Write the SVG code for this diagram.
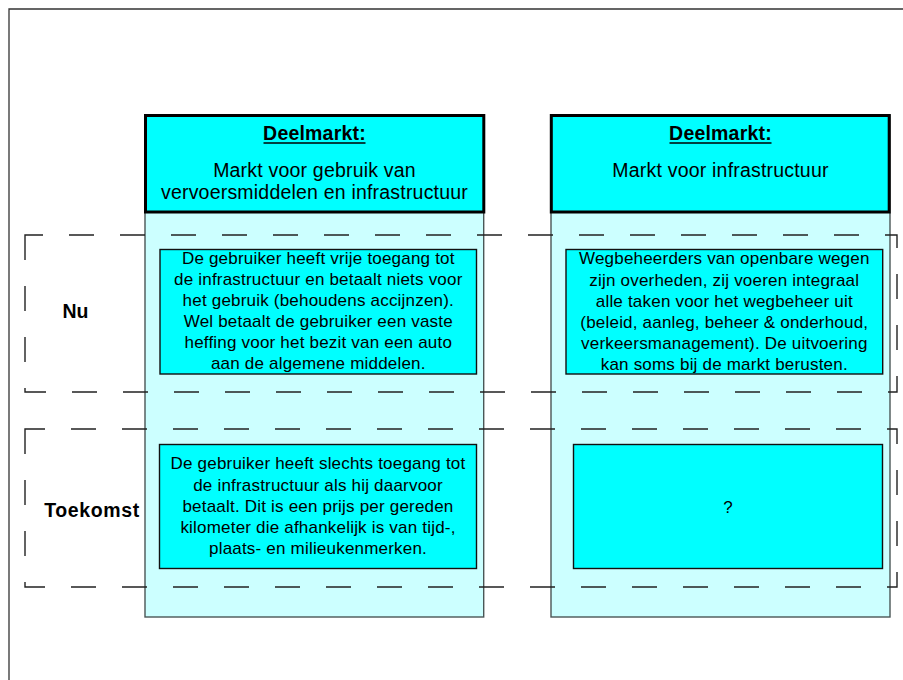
<svg xmlns="http://www.w3.org/2000/svg" width="903" height="680" viewBox="0 0 903 680">
  <style>
    text { font-family: "Liberation Sans", Arial, sans-serif; fill: #000; text-anchor: middle; }
    .frame { fill: none; stroke: #333; stroke-width: 1.3; }
    .column { fill: #CCFFFF; stroke: #4a5656; stroke-width: 1.4; }
    .header { fill: #00FFFF; stroke: #000; stroke-width: 3; }
    .band { fill: none; stroke: #222; stroke-width: 1.4; stroke-dasharray: 25 26; }
    .cell { fill: #00FFFF; stroke: #111; stroke-width: 1.4; }
    .title { font-size: 19.5px; font-weight: bold; letter-spacing: 0.2px; }
    .head { font-size: 19.5px; letter-spacing: 0.2px; }
    .body { font-size: 17px; letter-spacing: 0.2px; }
    .row { font-size: 19.5px; font-weight: bold; }
    .uline { stroke: #000; stroke-width: 1.5; }
  </style>

  <!-- page frame (continues past the right and bottom edges) -->
  <path class="frame" d="M9,690 V9 H910"/>

  <!-- market columns -->
  <g id="col-gebruik">
    <rect class="column" x="145" y="115" width="338.7" height="502"/>
    <rect class="header" x="145.5" y="115.5" width="338.3" height="96.5"/>
    <text class="title" x="314.5" y="139.5">Deelmarkt:</text>
    <line class="uline" x1="263.5" y1="143" x2="365.5" y2="143"/>
    <text class="head" x="314.5" y="177">Markt voor gebruik van</text>
    <text class="head" x="314.5" y="198.5">vervoersmiddelen en infrastructuur</text>
  </g>

  <g id="col-infra">
    <rect class="column" x="551" y="115" width="339" height="502"/>
    <rect class="header" x="551.3" y="115.5" width="337.9" height="96.5"/>
    <text class="title" x="720.5" y="139.5">Deelmarkt:</text>
    <line class="uline" x1="669.5" y1="143" x2="771.5" y2="143"/>
    <text class="head" x="720.5" y="176.7">Markt voor infrastructuur</text>
  </g>

  <!-- time bands -->
  <g id="band-nu">
    <path class="band" d="M25,235 V392 H897 V235 Z"/>
    <text class="row" x="75.5" y="318">Nu</text>
  </g>

  <g id="band-toekomst">
    <path class="band" d="M25,429 V587 H897 V429 Z"/>
    <text class="row" x="92" y="517" style="letter-spacing:0.6px">Toekomst</text>
  </g>

  <!-- cells -->
  <g id="nu-gebruik">
    <rect class="cell" x="160" y="249.5" width="316.5" height="124.5"/>
    <text class="body" x="318.3" y="264.3">De gebruiker heeft vrije toegang tot</text>
    <text class="body" x="318.3" y="285.3">de infrastructuur en betaalt niets voor</text>
    <text class="body" x="318.3" y="306.3">het gebruik (behoudens accijnzen).</text>
    <text class="body" x="318.3" y="327.3">Wel betaalt de gebruiker een vaste</text>
    <text class="body" x="318.3" y="348.3">heffing voor het bezit van een auto</text>
    <text class="body" x="318.3" y="369.3">aan de algemene middelen.</text>
  </g>

  <g id="nu-infra">
    <rect class="cell" x="566" y="249.5" width="316.7" height="124.5"/>
    <text class="body" x="724.3" y="264.3">Wegbeheerders van openbare wegen</text>
    <text class="body" x="724.3" y="285.5">zijn overheden, zij voeren integraal</text>
    <text class="body" x="724.3" y="306.7">alle taken voor het wegbeheer uit</text>
    <text class="body" x="724.3" y="327.9">(beleid, aanleg, beheer &amp; onderhoud,</text>
    <text class="body" x="724.3" y="349.1">verkeersmanagement). De uitvoering</text>
    <text class="body" x="724.3" y="370.3">kan soms bij de markt berusten.</text>
  </g>

  <g id="toekomst-gebruik">
    <rect class="cell" x="159.5" y="444.5" width="317" height="124"/>
    <text class="body" x="318" y="469.3">De gebruiker heeft slechts toegang tot</text>
    <text class="body" x="318" y="490.5">de infrastructuur als hij daarvoor</text>
    <text class="body" x="318" y="511.7">betaalt. Dit is een prijs per gereden</text>
    <text class="body" x="318" y="532.9">kilometer die afhankelijk is van tijd-,</text>
    <text class="body" x="318" y="554.1">plaats- en milieukenmerken.</text>
  </g>

  <g id="toekomst-infra">
    <rect class="cell" x="573.5" y="444.5" width="309" height="124"/>
    <text class="body" x="728" y="513">?</text>
  </g>
</svg>
